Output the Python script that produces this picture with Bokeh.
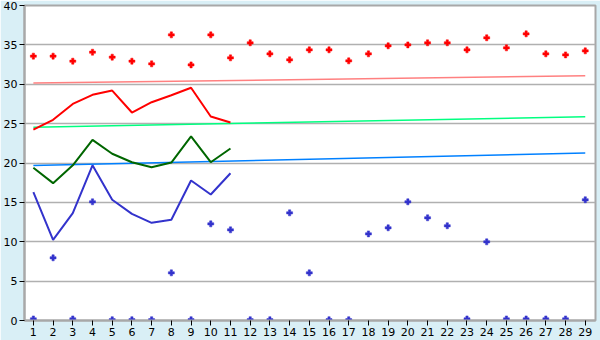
from bokeh.plotting import figure
from bokeh.models import Range1d, FixedTicker
from bokeh.embed import file_html
from bokeh.resources import INLINE

days = list(range(1, 30))

red_line_days = list(range(1, 12))
red_line = [24.25, 25.48, 27.5, 28.66, 29.2, 26.41, 27.72, 28.61, 29.55, 25.9, 25.14]
green_line = [19.39, 17.44, 19.7, 22.94, 21.17, 20.1, 19.47, 20.06, 23.37, 20.1, 21.84]
blue_line = [16.3, 10.24, 13.63, 19.7, 15.33, 13.54, 12.4, 12.79, 17.78, 16.0, 18.7]

red_points = [33.57, 33.57, 32.93, 34.07, 33.44, 32.93, 32.59, 36.27, 32.46, 36.27,
              33.35, 35.26, 33.86, 33.1, 34.37, 34.37, 32.97, 33.86, 34.88, 35.0,
              35.26, 35.26, 34.37, 35.9, 34.62, 36.4, 33.86, 33.73, 34.24]
blue_points = [0.2, 7.96, 0.2, 15.07, 0.1, 0.1, 0.1, 6.05, 0.1, 12.27,
               11.51, 0.1, 0.1, 13.67, 6.05, 0.1, 0.1, 11.0, 11.77, 15.07,
               13.04, 12.03, 0.2, 9.99, 0.2, 0.2, 0.2, 0.2, 15.33]

trend_days = [1, 29]
pink_trend = [30.15, 31.07]
lightgreen_trend = [24.55, 25.86]
lightblue_trend = [19.68, 21.27]

y_ticks = [0, 5, 10, 15, 20, 25, 30, 35, 40]

p = figure(width=600, height=340, output_backend="svg", toolbar_location=None,
           x_range=Range1d(0.55, 29.52), y_range=Range1d(0, 40),
           min_border_left=20, min_border_right=5, min_border_top=5, min_border_bottom=20)
p.background_fill_color = "white"
p.border_fill_color = "#D9EFF6"
p.outline_line_color = "#A8A8A8"
p.outline_line_width = 2

p.xgrid.visible = False
p.ygrid.grid_line_color = "#B0B0B0"
p.ygrid.grid_line_width = 1.5
p.ygrid.ticker = FixedTicker(ticks=y_ticks)

for ax in (p.xaxis, p.yaxis):
    ax.axis_line_color = "#A8A8A8"
    ax.axis_line_width = 2
    ax.major_tick_line_color = "#000000"
    ax.major_tick_line_width = 1
    ax.minor_tick_line_color = None
    ax.major_tick_in = 0
    ax.major_tick_out = 5
    ax.major_label_text_font = "DejaVu Sans"
    ax.major_label_text_font_size = "11px"
    ax.major_label_text_color = "#000000"
p.xaxis.ticker = FixedTicker(ticks=days)
p.yaxis.ticker = FixedTicker(ticks=y_ticks)
p.xaxis.major_label_standoff = 2
p.yaxis.major_label_standoff = 2

p.line(trend_days, pink_trend, line_color="#FF8080", line_width=1.5)
p.line(trend_days, lightgreen_trend, line_color="#00FF80", line_width=1.5)
p.line(trend_days, lightblue_trend, line_color="#0080FF", line_width=1.5)

p.line(red_line_days, red_line, line_color="#FF0000", line_width=2)
p.line(red_line_days, green_line, line_color="#006600", line_width=2)
p.line(red_line_days, blue_line, line_color="#3333CC", line_width=2)

p.scatter(days, red_points, marker="plus", size=6, fill_color="#FF0000", line_color="#FF0000", line_width=0.5)
p.scatter(days, blue_points, marker="plus", size=6, fill_color="#3333CC", line_color="#3333CC", line_width=0.5)

open("out.html", "w").write(file_html(p, INLINE))
